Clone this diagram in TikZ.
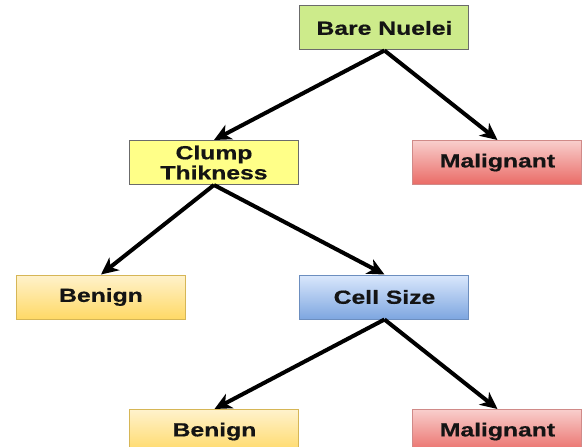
\documentclass[tikz,border=0pt]{standalone}
\usepackage{fontspec}
\setmainfont{Liberation Sans}[FakeStretch=1.3,FakeBold=0.6]
\usepackage{xcolor}
\usepackage{tikz}
\usetikzlibrary{positioning}
\usetikzlibrary{arrows.meta}
\definecolor{GreenFill}{HTML}{CDEB8B}
\definecolor{YellowFill}{HTML}{FFFF88}
\definecolor{BoxLine}{HTML}{6B6B6B}
\definecolor{RedTop}{HTML}{F8CECC}
\definecolor{RedBot}{HTML}{EA6B66}
\definecolor{RedLine}{HTML}{D08A88}
\definecolor{OrangeTop}{HTML}{FFF2CC}
\definecolor{OrangeBot}{HTML}{FFD966}
\definecolor{OrangeLine}{HTML}{D6B656}
\definecolor{BlueTop}{HTML}{DAE8FC}
\definecolor{BlueBot}{HTML}{7EA6E0}
\definecolor{BlueLine}{HTML}{6C8EBF}
\definecolor{TextDark}{HTML}{141414}

\tikzset{
  box/.style={rectangle, minimum width=169pt, minimum height=44pt, line width=1pt,
    inner sep=2pt, align=center, text=TextDark,
    font=\fontsize{19}{22}\selectfont\bfseries},
  splitbox/.style={box, draw=BoxLine},
  malbox/.style={box, draw=RedLine, top color=RedTop, bottom color=RedBot},
  benbox/.style={box, draw=OrangeLine, top color=OrangeTop, bottom color=OrangeBot},
  edge/.style={line width=4pt, black, -{Stealth[length=17pt,width=16pt,inset=5pt]}}
}

\begin{document}
\begin{tikzpicture}[node distance=89.5pt]
        \useasboundingbox (-384.5pt,28pt) rectangle (197.5pt,-419pt);
        % tree nodes
        \node[splitbox, fill=GreenFill] (BareN) {Bare Nuelei};
        \node[splitbox, fill=YellowFill, below=of BareN, xshift=-170.5pt] (Clump) {Clump\\[-2pt]Thikness};
        \node[malbox, below=of BareN, xshift=113pt] (MalA) {Malignant};
        \node[benbox, below=of Clump, xshift=-113pt] (BenA) {Benign};
        \node[box, draw=BlueLine, top color=BlueTop, bottom color=BlueBot, below=of Clump, xshift=170.5pt] (CellS) {Cell Size};
        \node[benbox, below=of CellS, xshift=-170pt] (BenB) {Benign};
        \node[malbox, below=of CellS, xshift=113pt] (MalB) {Malignant};

        % edges
        \draw[edge] (BareN.south) -- (Clump.north);
        \draw[edge] (BareN.south) -- (MalA.north);
        \draw[edge] (Clump.south) -- (BenA.north);
        \draw[edge] (Clump.south) -- (CellS.north);
        \draw[edge] (CellS.south) -- (BenB.north);
        \draw[edge] (CellS.south) -- (MalB.north);
   \end{tikzpicture}
\end{document}
